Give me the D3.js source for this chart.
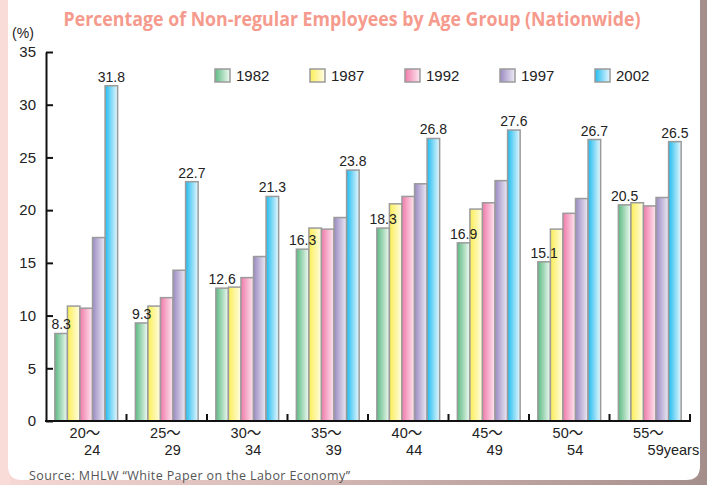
<!DOCTYPE html>
<html>
<head>
<meta charset="utf-8">
<script src="https://d3js.org/d3.v7.min.js"></script>
<style>
    body { margin: 0; background: #fff; }
    .tick text, .lbl { font-family: "Liberation Sans", Arial, "Noto Sans CJK JP", sans-serif; fill: #222; }
</style>
</head>
<body>
<svg id="chart" width="707" height="485"></svg>
<script>
    // chart data
    const ageFrom = ["20", "25", "30", "35", "40", "45", "50", "55"];
    const ageTo   = ["24", "29", "34", "39", "44", "49", "54", "59"];
    const years   = ["1982", "1987", "1992", "1997", "2002"];
    const v1982 = [8.3, 9.3, 12.6, 16.3, 18.3, 16.9, 15.1, 20.5];
    const v1987 = [10.9, 10.9, 12.7, 18.3, 20.6, 20.1, 18.2, 20.7];
    const v1992 = [10.7, 11.7, 13.6, 18.2, 21.3, 20.7, 19.7, 20.4];
    const v1997 = [17.4, 14.3, 15.6, 19.3, 22.5, 22.8, 21.1, 21.2];
    const v2002 = [31.8, 22.7, 21.3, 23.8, 26.8, 27.6, 26.7, 26.5];
    const yTicks = [0, 5, 10, 15, 20, 25, 30, 35];

    const series = [v1982, v1987, v1992, v1997, v2002];
    const colors = {
        "1982": ["#5cba82", "#f2faf4"],
        "1987": ["#fbee55", "#fffde6"],
        "1992": ["#f07aaa", "#fde8f0"],
        "1997": ["#9a8ac2", "#eeebf5"],
        "2002": ["#1fbcf0", "#e8f7fd"]
    };

    const svg = d3.select("#chart");
    const defs = svg.append("defs");

    years.forEach(y => {
        const g = defs.append("linearGradient").attr("id", "grad" + y)
            .attr("x1", 0).attr("x2", 1).attr("y1", 0).attr("y2", 0);
        g.append("stop").attr("offset", "0%").attr("stop-color", colors[y][0]);
        g.append("stop").attr("offset", "100%").attr("stop-color", colors[y][1]);
    });
    const bottomGrad = defs.append("linearGradient").attr("id", "bottomGrad")
        .attr("x1", 0).attr("x2", 1).attr("y1", 0).attr("y2", 0);
    bottomGrad.append("stop").attr("offset", "0%").attr("stop-color", "#f8d8d4");
    bottomGrad.append("stop").attr("offset", "100%").attr("stop-color", "#a58f8c");

    // frame + card background
    svg.append("rect").attr("width", 707).attr("height", 485).attr("fill", "url(#bottomGrad)");
    svg.append("rect").attr("width", 10).attr("height", 485).attr("fill", "#f9dcd8");
    svg.append("rect").attr("x", 699).attr("width", 8).attr("height", 485).attr("fill", "#a58f8c");
    svg.append("path")
        .attr("d", "M8,0 H700 V466 Q700,480 686,480 H22 Q8,480 8,466 Z")
        .attr("fill", "#ffffff");

    // title
    svg.append("text")
        .attr("x", 352).attr("y", 26)
        .attr("text-anchor", "middle")
        .attr("textLength", 577).attr("lengthAdjust", "spacingAndGlyphs")
        .style("font-family", "'Open Sans', sans-serif")
        .style("font-weight", "bold")
        .style("font-size", "19px")
        .style("fill", "#f59a8c")
        .text("Percentage of Non-regular Employees by Age Group (Nationwide)");

    const x0 = d3.scaleBand().domain(ageFrom).range([46, 690])
        .paddingInner(0.22).paddingOuter(0.11);
    const x1 = d3.scaleBand().domain(years).range([0, x0.bandwidth()]);
    const y = d3.scaleLinear().domain([0, 35]).range([421, 52]);

    // bars
    const groups = svg.selectAll(".grp").data(ageFrom).enter()
        .append("g").attr("class", "grp")
        .attr("transform", d => "translate(" + x0(d) + ",0)");

    groups.selectAll("rect")
        .data((d, i) => years.map((yr, k) => ({ year: yr, value: series[k][i] })))
        .enter().append("rect")
        .attr("x", d => x1(d.year))
        .attr("y", d => y(d.value))
        .attr("width", x1.bandwidth())
        .attr("height", d => y(0) - y(d.value))
        .attr("fill", d => "url(#grad" + d.year + ")")
        .attr("stroke", "#9b9b9b")
        .attr("stroke-width", 1.5);

    // value labels for 1982 and 2002
    [[0, v1982], [4, v2002]].forEach(([k, vals]) => {
        svg.selectAll(".lbl" + k).data(vals).enter()
            .append("text")
            .attr("class", "lbl")
            .attr("x", (d, i) => x0(ageFrom[i]) + x1(years[k]) + x1.bandwidth() / 2)
            .attr("y", d => y(d) - 4)
            .attr("text-anchor", "middle")
            .style("font-size", "14px")
            .text(d => d.toFixed(1));
    });

    // y axis
    const yAxis = svg.append("g").attr("transform", "translate(46,0)")
        .call(d3.axisLeft(y).tickValues(yTicks).tickSizeInner(-7).tickSizeOuter(0).tickPadding(10));
    yAxis.select(".domain").attr("stroke", "#111").attr("stroke-width", 2);
    yAxis.selectAll(".tick line").attr("stroke", "#111").attr("stroke-width", 2);
    yAxis.selectAll(".tick text").style("font-size", "15px");

    svg.append("text").attr("class", "lbl")
        .attr("x", 23).attr("y", 38)
        .attr("text-anchor", "middle")
        .style("font-size", "14px")
        .text("(%)");

    // x axis
    svg.append("line")
        .attr("x1", 45).attr("x2", 691).attr("y1", y(0)).attr("y2", y(0))
        .attr("stroke", "#111").attr("stroke-width", 2);
    const half = x0.step() * x0.paddingInner() / 2;
    svg.selectAll(".xtick").data(ageFrom).enter()
        .append("line")
        .attr("x1", d => x0(d) + x0.bandwidth() + half)
        .attr("x2", d => x0(d) + x0.bandwidth() + half)
        .attr("y1", y(0)).attr("y2", y(0) - 7)
        .attr("stroke", "#111").attr("stroke-width", 2);

    const labelEnd = d => x0(d) + x0.bandwidth() / 2 + 14;
    svg.selectAll(".xl1").data(ageFrom).enter()
        .append("text").attr("class", "lbl")
        .attr("x", labelEnd).attr("y", 438)
        .attr("text-anchor", "end")
        .style("font-size", "14.5px")
        .text(d => d + "～");
    const xl2 = svg.selectAll(".xl2").data(ageTo).enter()
        .append("text").attr("class", "lbl")
        .attr("x", (d, i) => labelEnd(ageFrom[i])).attr("y", 455)
        .attr("text-anchor", "end")
        .style("font-size", "14.5px")
        .text(d => d);

    // last label carries the unit: "59years" as one text
    const lastNode = xl2.nodes()[ageTo.length - 1];
    const w = lastNode.getComputedTextLength();
    d3.select(lastNode)
        .attr("text-anchor", "start")
        .attr("x", labelEnd(ageFrom[ageFrom.length - 1]) - w)
        .text(ageTo[ageTo.length - 1] + "years");

    // legend
    const legend = svg.selectAll(".leg").data(years).enter()
        .append("g")
        .attr("transform", (d, i) => "translate(" + (215 + i * 95) + ",69)");
    legend.append("rect")
        .attr("width", 15).attr("height", 13)
        .attr("fill", d => "url(#grad" + d + ")")
        .attr("stroke", "#9b9b9b").attr("stroke-width", 1.5);
    legend.append("text").attr("class", "lbl")
        .attr("x", 21).attr("y", 12)
        .style("font-size", "15px")
        .text(d => d);

    // source
    svg.append("text")
        .attr("x", 29).attr("y", 480)
        .attr("textLength", 321).attr("lengthAdjust", "spacing")
        .style("font-family", "'Open Sans', sans-serif")
        .style("font-size", "12.5px")
        .style("fill", "#555")
        .text("Source:  MHLW “White Paper on the Labor Economy”");
</script>
</body>
</html>
